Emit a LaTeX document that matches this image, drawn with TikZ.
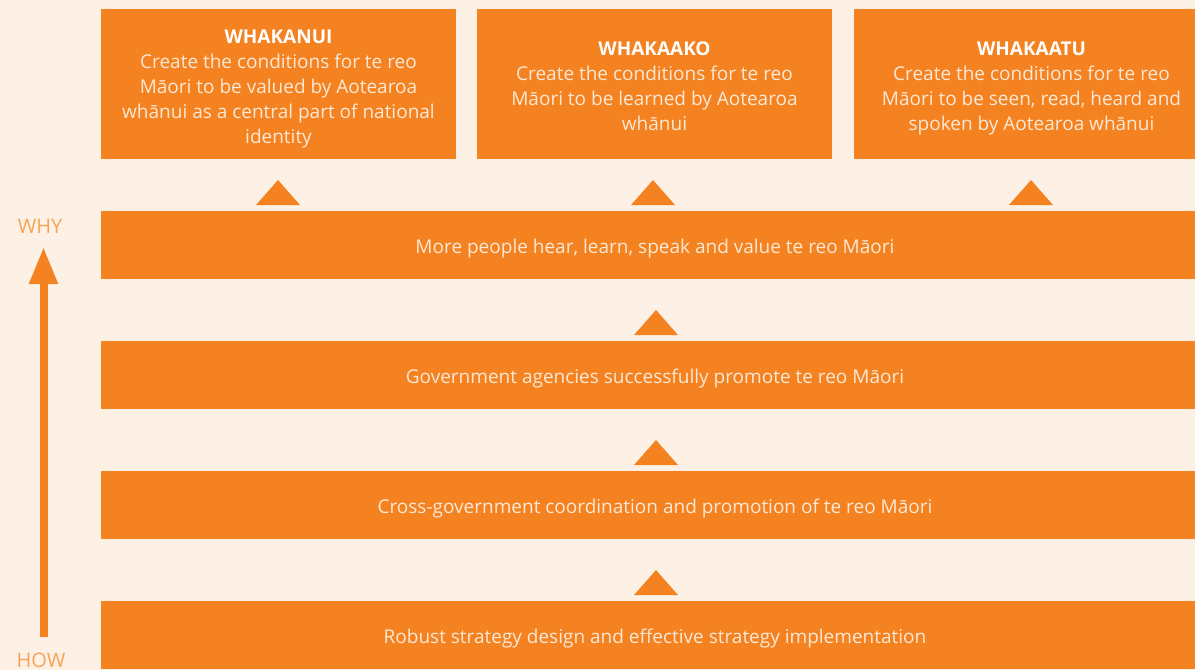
\documentclass[tikz,border=0pt]{standalone}
\usepackage{fontspec}
\setmainfont{Open Sans}
\usetikzlibrary{arrows.meta}
\definecolor{cream}{HTML}{FDF0E4}
\definecolor{tangerine}{HTML}{F58220}
\definecolor{paleorange}{HTML}{F7A458}
\definecolor{palecream}{HTML}{FCE8D6}
\tikzset{
  goal/.style={fill=tangerine, minimum width=355pt, minimum height=150pt,
    inner sep=0pt},
  goaltext/.style={text=palecream, align=center, inner sep=0pt,
    font=\fontsize{19}{25}\selectfont},
  bar/.style={fill=tangerine, text=palecream, minimum width=1108pt,
    minimum height=68pt, inner sep=0pt, text height=18pt, text depth=2pt,
    font=\fontsize{19}{25}\selectfont},
  uptri/.style={fill=tangerine},
  axislabel/.style={text=paleorange, font=\fontsize{20}{22}\selectfont},
  >=Triangle
}
\newcommand{\goalhead}[1]{{\color{white}\bfseries #1}}

\begin{document}
\begin{tikzpicture}[x=1pt, y=-1pt]
  \fill[cream] (0, 0) rectangle (1195, 670);
  \useasboundingbox (0, 0) rectangle (1195, 670);
  \clip (0, 0) rectangle (1195, 670);

  % outcome boxes
  \node[goal] (whakanui) at (278.5, 84) {};
  \node[goal] (whakaako) at (654.5, 84) {};
  \node[goal] (whakaatu) at (1031.5, 84) {};
  \node[goaltext] (whakanuitext) at ([yshift=-5pt]whakanui.center) {\goalhead{WHAKANUI}\\
    Create the conditions for te reo\\ Māori to be valued by Aotearoa\\
    whānui as a central part of national\\ identity};
  \node[goaltext] (whakaakotext) at ([yshift=-2pt]whakaako.center) {\goalhead{WHAKAAKO}\\
    Create the conditions for te reo\\ Māori to be learned by Aotearoa\\
    whānui};
  \node[goaltext] (whakaatutext) at ([yshift=-4pt]whakaatu.center) {\goalhead{WHAKAATU}\\
    Create the conditions for te reo\\ Māori to be seen, read, heard and\\
    spoken by Aotearoa whānui};

  % levels
  \node[bar] (people) at (655, 245) {More people hear, learn, speak and value te reo Māori};
  \node[bar] (agencies) at (655, 375) {Government agencies successfully promote te reo Māori};
  \node[bar] (crossgov) at (655, 505) {Cross-government coordination and promotion of te reo Māori};
  \node[bar] (strategy) at (655, 635) {Robust strategy design and effective strategy implementation};

  % upward triangles
  \foreach \x in {278, 653, 1031}
    \fill[uptri] (\x - 22, 205) -- (\x + 22, 205) -- (\x, 180) -- cycle;
  \foreach \y in {335, 465, 595}
    \fill[uptri] (656 - 22, \y) -- (656 + 22, \y) -- (656, \y - 25) -- cycle;

  % how-why axis
  \node[axislabel] (why) at (40, 226) {WHY};
  \node[axislabel] (how) at (41, 660) {HOW};
  \coordinate (axisfoot) at (43.5, 637);
  \coordinate (axistip) at (43.5, 247);
  \draw[->, tangerine, line width=8pt, >={Triangle[length=37pt, width=27pt]}]
    (axisfoot) -- (axistip);
\end{tikzpicture}
\end{document}
